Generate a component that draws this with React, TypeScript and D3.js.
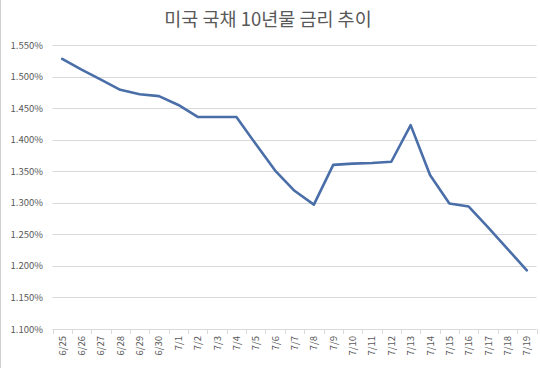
import React from "react";
import * as d3 from "d3";

const categories = ["6/25","6/26","6/27","6/28","6/29","6/30","7/1","7/2","7/3","7/4","7/5","7/6","7/7","7/8","7/9","7/10","7/11","7/12","7/13","7/14","7/15","7/16","7/17","7/18","7/19"];
const yields = [1.528,1.511,1.495,1.479,1.472,1.469,1.455,1.436,1.436,1.436,1.393,1.351,1.319,1.297,1.360,1.362,1.363,1.365,1.423,1.344,1.299,1.294,1.261,1.227,1.193];
const yTicks = [1.10,1.15,1.20,1.25,1.30,1.35,1.40,1.45,1.50,1.55];
const title = "미국 국채 10년물 금리 추이";

const W = 540, H = 368;
const left = 52.5, right = 536.5, top = 45, bottom = 329;

export default function App() {
  const x = d3.scaleBand<string>().domain(categories).range([left, right]);
  const y = d3.scaleLinear().domain([1.10, 1.55]).range([bottom, top]);
  const line = d3.line<number>()
    .x((_, i) => (x(categories[i]) as number) + x.bandwidth() / 2)
    .y((d) => y(d));
  const font = "'Noto Sans CJK KR', 'Noto Sans', sans-serif";
  const boundaries = categories.map((c) => x(c) as number).concat([right]);
  return (
    <svg width={W} height={H} style={{ position: "absolute", left: 0, top: 0, background: "#fff" }}>
      <rect x={0} y={0} width={W} height={H} fill="#fff" />
      <line x1={0.5} y1={0} x2={0.5} y2={H} stroke="#d0d0d0" />
      <text x={268} y={26} textAnchor="middle" fontFamily={font} fontSize={18.5} fill="#595959">{title}</text>
      {yTicks.map((t) => (
        <g key={t}>
          <line x1={left} x2={right} y1={Math.round(y(t)) + 0.5} y2={Math.round(y(t)) + 0.5} stroke="#d9d9d9" strokeWidth={1} />
          <text x={43} y={y(t) + 3.5} textAnchor="end" fontFamily={font} fontSize={9.5} fill="#595959">{d3.format(".3f")(t) + "%"}</text>
        </g>
      ))}
      {boundaries.map((b, i) => (
        <line key={i} x1={Math.round(b) + 0.5} x2={Math.round(b) + 0.5} y1={bottom} y2={bottom + 5} stroke="#d9d9d9" />
      ))}
      {categories.map((c) => {
        const cx = (x(c) as number) + x.bandwidth() / 2;
        return (
          <text key={c} transform={`translate(${cx + 3.5},${bottom + 7}) rotate(-90)`} textAnchor="end" fontFamily={font} fontSize={9.5} fill="#595959">{c}</text>
        );
      })}
      <path d={line(yields) || ""} fill="none" stroke="#4a6ea8" strokeWidth={2.6} strokeLinejoin="round" strokeLinecap="round" />
    </svg>
  );
}
